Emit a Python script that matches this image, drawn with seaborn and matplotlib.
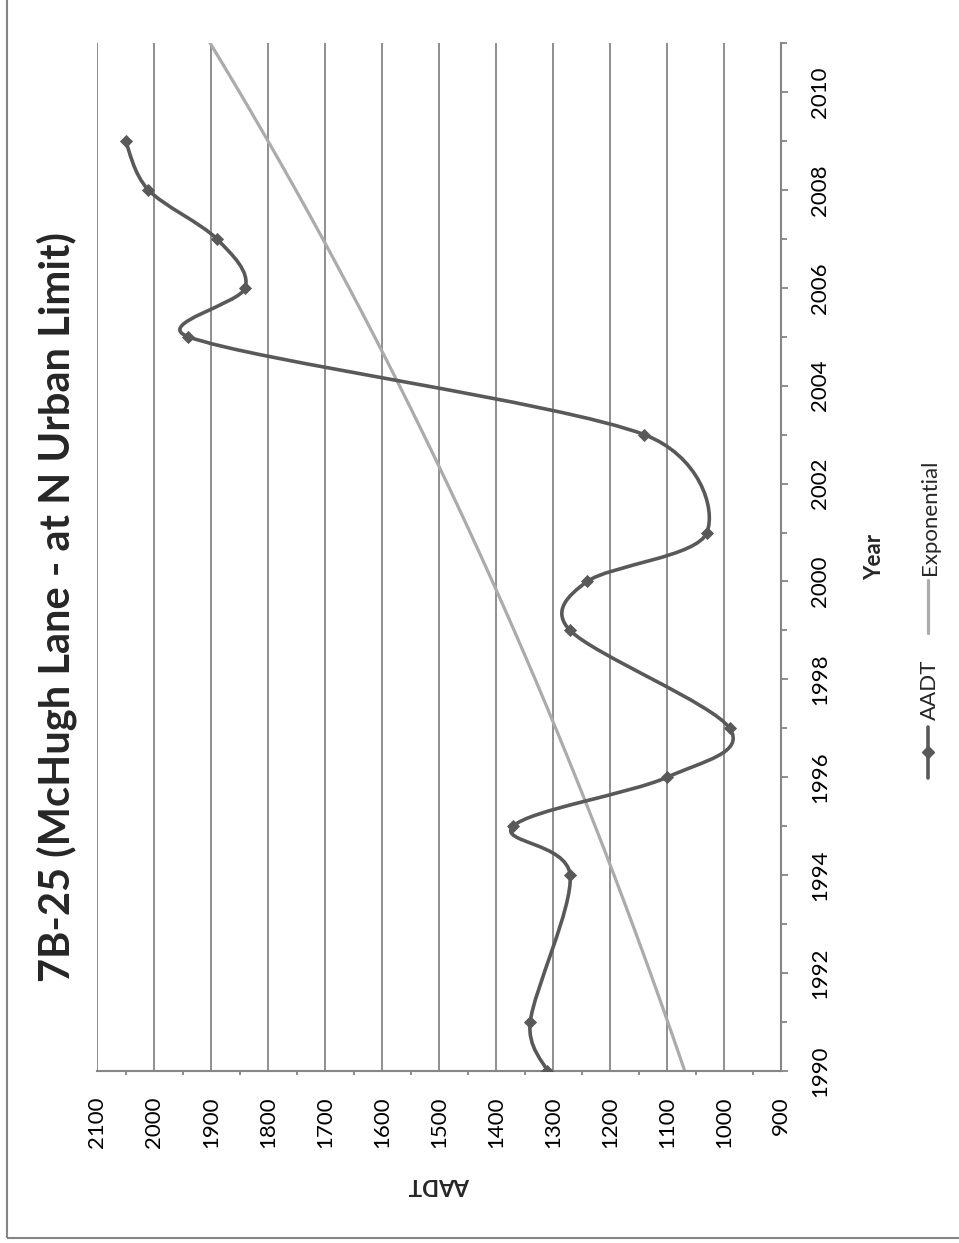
import numpy as np
import pandas as pd
import matplotlib
matplotlib.use("Agg")
import matplotlib.pyplot as plt
import matplotlib.transforms as mtransforms
import seaborn as sns
from matplotlib.path import Path
from matplotlib.patches import PathPatch, Rectangle
from matplotlib.lines import Line2D
from matplotlib.ticker import MultipleLocator

# ---- data -------------------------------------------------------------
years = [1990, 1991, 1994, 1995, 1996, 1997, 1999, 2000, 2001, 2003,
         2005, 2006, 2007, 2008, 2009]
aadt = [1310, 1340, 1270, 1370, 1100, 990, 1270, 1240, 1030, 1140,
        1940, 1840, 1890, 2010, 2050]
aadt_ticks = list(range(900, 2101, 100))
year_ticks = list(range(1990, 2011, 2))
title = "7B-25 (McHugh Lane - at N Urban Limit)"
series_name = "AADT"
trend_name = "Exponential"

DARK = "#595959"
LIGHT = "#ABABAB"
GRID = "#868686"

sns.set_style("white")
plt.rcParams["font.family"] = ["Lato", "DejaVu Sans"]

W, H = 959, 1243
fig = plt.figure(figsize=(W / 100, H / 100), dpi=100)


def fx(px):
    return px / W


def fy(py):
    return 1 - py / H


# chart is laid out sideways: AADT runs right-to-left, years run upward
AX_L, AX_R, AX_T, AX_B = 97, 781, 43, 1071
ax = fig.add_axes([fx(AX_L), fy(AX_B), (AX_R - AX_L) / W, (AX_B - AX_T) / H])
ax.set_xlim(2100, 900)
ax.set_ylim(1990, 2011)

df = pd.DataFrame({"Year": years, "AADT": aadt})

# exponential trendline (least squares on log values), extended to 2011
slope, intercept = np.polyfit(df["Year"] - 1990, np.log(df["AADT"]), 1)
trend_years = np.linspace(1990, 2011, 43)
trend_df = pd.DataFrame({"Year": trend_years,
                         "AADT": np.exp(intercept + slope * (trend_years - 1990))})
sns.lineplot(data=trend_df, x="AADT", y="Year", orient="y", estimator=None,
             sort=False, color=LIGHT, lw=2.3, ax=ax, zorder=2)

# smoothed series line: cubic Bezier segments through the data points,
# control points built in screen space with tangents capped at half a segment
pts = ax.transData.transform(df[["AADT", "Year"]].to_numpy(dtype=float))
ext = np.vstack([pts[0], pts, pts[-1]])
verts = [pts[0]]
codes = [Path.MOVETO]
for i in range(len(pts) - 1):
    p0, p1, p2, p3 = ext[i], ext[i + 1], ext[i + 2], ext[i + 3]
    d12 = np.hypot(*(p2 - p1))
    d02 = np.hypot(*(p2 - p0))
    d13 = np.hypot(*(p3 - p1))
    f1 = 1 / 6 if d02 == 0 else min(1 / 6, d12 / (2 * d02))
    f2 = 1 / 6 if d13 == 0 else min(1 / 6, d12 / (2 * d13))
    verts += [p1 + (p2 - p0) * f1, p2 - (p3 - p1) * f2, p2]
    codes += [Path.CURVE4] * 3
verts = ax.transData.inverted().transform(np.array(verts))
ax.add_patch(PathPatch(Path(verts, codes), fill=False, edgecolor=DARK,
                       lw=2.6, capstyle="round", joinstyle="round", zorder=3))

sns.scatterplot(data=df, x="AADT", y="Year", marker="D", s=45, color=DARK,
                edgecolor=DARK, linewidth=0, zorder=4, ax=ax, legend=False)

# ---- axes ---------------------------------------------------------------
ax.set_xlim(2100, 900)
ax.set_ylim(1990, 2011)
ax.set_xticks(aadt_ticks)
ax.set_xticklabels([str(t) for t in aadt_ticks])
ax.xaxis.set_minor_locator(MultipleLocator(50))
ax.set_yticks(year_ticks)
ax.yaxis.set_minor_locator(MultipleLocator(1))
ax.yaxis.tick_right()

ax.set_axisbelow(True)
ax.xaxis.grid(True, which="major", color=GRID, lw=1.3)
ax.yaxis.grid(False)

for side in ["top", "left"]:
    ax.spines[side].set_visible(False)
for side in ["right", "bottom"]:
    ax.spines[side].set_color(GRID)
    ax.spines[side].set_linewidth(1.5)

ax.tick_params(axis="x", which="major", direction="out", length=5, width=1.3,
               color=GRID, labelsize=16, labelrotation=90, pad=13,
               labelcolor="black")
ax.tick_params(axis="x", which="minor", direction="out", length=3, width=1.3,
               color=GRID, bottom=True)
ax.tick_params(axis="y", which="both", direction="out", width=1.3, color=GRID,
               right=True, left=False, labelright=False, labelleft=False)
ax.tick_params(axis="y", which="major", length=5)
ax.tick_params(axis="y", which="minor", length=4)

# year labels: read upward, centred on their ticks, right of the axis line
year_trans = mtransforms.blended_transform_factory(ax.transAxes, ax.transData)
label_x = (810 - AX_L) / (AX_R - AX_L)
for yr in year_ticks:
    ax.text(label_x, yr, str(yr), transform=year_trans, rotation=90,
            rotation_mode="anchor", ha="center", va="top", fontsize=16,
            color="black", clip_on=False)

ax.set_xlabel("AADT", fontsize=16, fontweight="bold", rotation=180)
ax.xaxis.set_label_coords(0.5, (AX_B - 1185) / (AX_B - AX_T))
ax.xaxis.label.set_ha("center")
ax.xaxis.label.set_va("center")

ax.yaxis.set_label_position("right")
ax.set_ylabel("Year", fontsize=16, fontweight="bold", rotation=90)
ax.yaxis.set_label_coords((875 - AX_L) / (AX_R - AX_L), 0.5)
ax.yaxis.label.set_ha("center")
ax.yaxis.label.set_va("center")

# ---- title --------------------------------------------------------------
fig.text(fx(70), fy(607), title, rotation=90, rotation_mode="anchor",
         ha="center", va="baseline", fontsize=30, fontweight="bold")

# ---- legend (vertical) --------------------------------------------------
lx = fx(928)
fig.add_artist(Line2D([lx, lx], [fy(778), fy(727)], color=DARK, lw=2.6,
                      transform=fig.transFigure))
fig.add_artist(Line2D([lx], [fy(752)], marker="D", markersize=6.5, color=DARK,
                      lw=0, transform=fig.transFigure))
fig.text(fx(930), fy(720), series_name, rotation=90, ha="center", va="bottom",
         fontsize=16)
fig.add_artist(Line2D([lx, lx], [fy(633), fy(580)], color=LIGHT, lw=2.3,
                      transform=fig.transFigure))
fig.text(fx(930), fy(575), trend_name, rotation=90, ha="center", va="bottom",
         fontsize=16)

# chart-area border
fig.add_artist(Rectangle((fx(7), fy(1238)), 1, 1, fill=False, ec=GRID, lw=1.5,
                         transform=fig.transFigure, clip_on=False))

fig.savefig("out.png", dpi=100)
